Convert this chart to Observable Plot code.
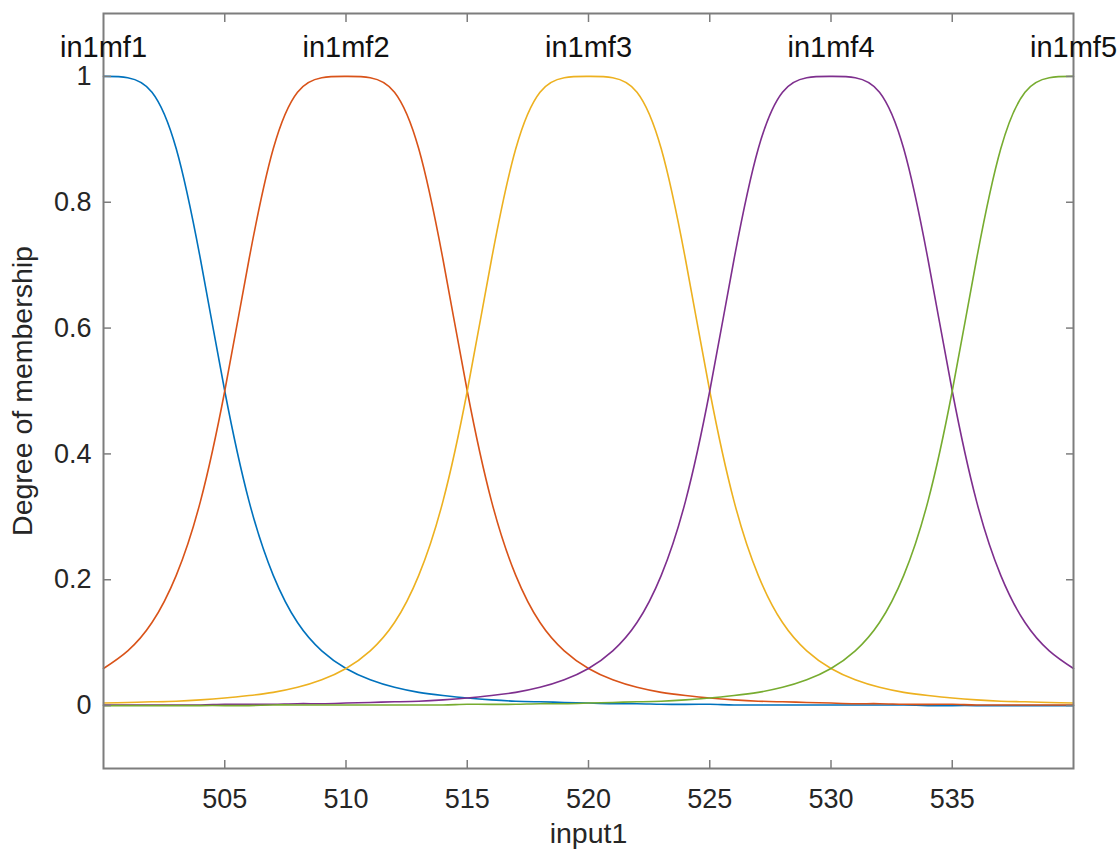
<!DOCTYPE html>
<html>
<head>
<meta charset="utf-8">
<script src="https://cdn.jsdelivr.net/npm/d3@7"></script>
<script src="https://cdn.jsdelivr.net/npm/@observablehq/plot@0.6"></script>
<style>
  html, body { margin: 0; padding: 0; background: #ffffff; }
  #chart { width: 1119px; height: 854px; }
</style>
</head>
<body>
<div id="chart"></div>
<script>
// ---- data ----
const inputValues = [500,501,502,503,504,505,506,507,508,509,510,511,512,513,514,515,516,517,518,519,520,
                     521,522,523,524,525,526,527,528,529,530,531,532,533,534,535,536,537,538,539,540];

const mfNames   = ["in1mf1", "in1mf2", "in1mf3", "in1mf4", "in1mf5"];
const mfCenters = [500, 510, 520, 530, 540];
const mfColors  = ["#0072BD", "#D95319", "#EDB120", "#7E2F8E", "#77AC30"];

const in1mf1 = [1.000,0.998,0.975,0.885,0.709,0.500,0.325,0.207,0.132,0.087,0.059,0.041,0.029,0.021,0.016,0.012,0.009,0.007,0.006,0.005,0.004,
                0.003,0.003,0.002,0.002,0.002,0.001,0.001,0.001,0.001,0.001,0.001,0.001,0.001,0.000,0.000,0.000,0.000,0.000,0.000,0.000];
const in1mf2 = [0.059,0.087,0.132,0.207,0.325,0.500,0.709,0.885,0.975,0.998,1.000,0.998,0.975,0.885,0.709,0.500,0.325,0.207,0.132,0.087,0.059,
                0.041,0.029,0.021,0.016,0.012,0.009,0.007,0.006,0.005,0.004,0.003,0.003,0.002,0.002,0.002,0.001,0.001,0.001,0.001,0.001];
const in1mf3 = [0.004,0.005,0.006,0.007,0.009,0.012,0.016,0.021,0.029,0.041,0.059,0.087,0.132,0.207,0.325,0.500,0.709,0.885,0.975,0.998,1.000,
                0.998,0.975,0.885,0.709,0.500,0.325,0.207,0.132,0.087,0.059,0.041,0.029,0.021,0.016,0.012,0.009,0.007,0.006,0.005,0.004];
const in1mf4 = [0.001,0.001,0.001,0.001,0.001,0.002,0.002,0.002,0.003,0.003,0.004,0.005,0.006,0.007,0.009,0.012,0.016,0.021,0.029,0.041,0.059,
                0.087,0.132,0.207,0.325,0.500,0.709,0.885,0.975,0.998,1.000,0.998,0.975,0.885,0.709,0.500,0.325,0.207,0.132,0.087,0.059];
const in1mf5 = [0.000,0.000,0.000,0.000,0.000,0.000,0.000,0.001,0.001,0.001,0.001,0.001,0.001,0.001,0.001,0.002,0.002,0.002,0.003,0.003,0.004,
                0.005,0.006,0.007,0.009,0.012,0.016,0.021,0.029,0.041,0.059,0.087,0.132,0.207,0.325,0.500,0.709,0.885,0.975,0.998,1.000];

const xTicks = [505, 510, 515, 520, 525, 530, 535];
const yTicks = [0, 0.2, 0.4, 0.6, 0.8, 1];
const xDomain = [500, 540];
const yDomain = [-0.1, 1.1];
const labelLevel = 1.045;
const xTitle = "input1";
const yTitle = "Degree of membership";

// ---- build table for the library ----
const series = [in1mf1, in1mf2, in1mf3, in1mf4, in1mf5];
const rows = [];
series.forEach((vals, i) => vals.forEach((v, j) => rows.push({x: inputValues[j], y: v, mf: mfNames[i]})));
const labels = mfNames.map((name, i) => ({name, x: mfCenters[i], y: labelLevel}));

const axisGray = "#7d7d7d";
const textColor = "#262626";
const font = "'Liberation Sans', Arial, Helvetica, sans-serif";
const yFmt = d => (d === 0 || d === 1) ? String(d) : d.toFixed(1);

const chart = Plot.plot({
  width: 1119,
  height: 854,
  marginLeft: 103,
  marginRight: 46,
  marginTop: 13,
  marginBottom: 86,
  style: {fontFamily: font, fontSize: "27px", color: textColor, background: "#ffffff", overflow: "visible"},
  x: {domain: xDomain, axis: null},
  y: {domain: yDomain, axis: null},
  color: {domain: mfNames, range: mfColors},
  marks: [
    Plot.line(rows, {x: "x", y: "y", z: "mf", stroke: "mf", strokeWidth: 1.6, curve: "natural"}),
    Plot.frame({stroke: axisGray, strokeWidth: 2}),
    Plot.axisX(xTicks, {anchor: "bottom", tickSize: -8, tickPadding: 28, stroke: axisGray, strokeWidth: 1.5, fill: textColor, fontSize: 27, label: null}),
    Plot.axisX(xTicks, {anchor: "top", tickSize: -8, stroke: axisGray, strokeWidth: 1.5, tickFormat: () => "", label: null}),
    Plot.axisY(yTicks, {anchor: "left", tickSize: -8, tickPadding: 20, stroke: axisGray, strokeWidth: 1.5, fill: textColor, fontSize: 27, tickFormat: yFmt, label: null}),
    Plot.axisY(yTicks, {anchor: "right", tickSize: -8, stroke: axisGray, strokeWidth: 1.5, tickFormat: () => "", label: null}),
    Plot.text(labels, {x: "x", y: "y", text: "name", fontSize: 29, fill: "#111111", lineAnchor: "middle", clip: false}),
    Plot.text([xTitle], {text: d => d, frameAnchor: "bottom", dy: 65, fontSize: 28.5, fill: textColor, lineAnchor: "middle"}),
    Plot.text([yTitle], {text: d => d, frameAnchor: "left", dx: -81, rotate: -90, textAnchor: "middle", fontSize: 28.5, fill: textColor, lineAnchor: "middle"})
  ]
});
document.getElementById("chart").appendChild(chart);
</script>
</body>
</html>
